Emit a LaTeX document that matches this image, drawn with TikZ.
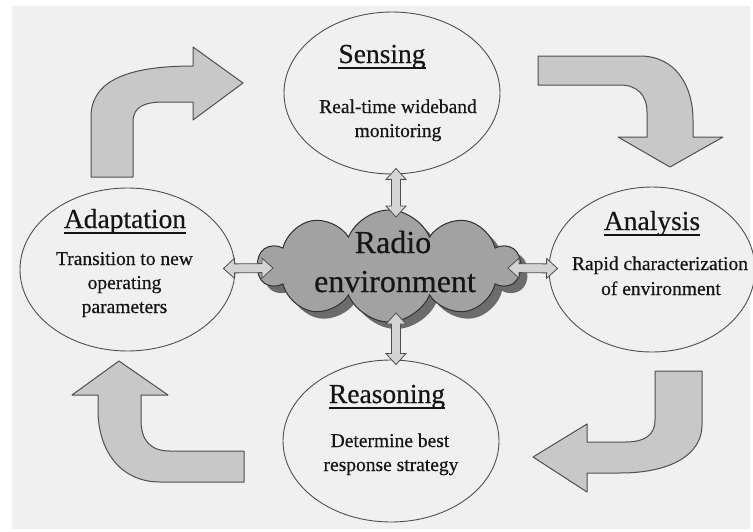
\documentclass[tikz,border=0pt]{standalone}
\usepackage{fontspec}
\setmainfont{Liberation Serif}[FakeBold=0.5]
\usetikzlibrary{shapes.geometric,shapes.symbols,calc}
\definecolor{bg}{HTML}{F0F0F0}
\definecolor{bigfill}{HTML}{C8C8C8}
\definecolor{edge}{HTML}{4F4F4F}
\definecolor{cloudfill}{HTML}{A2A2A2}
\definecolor{cloudshadow}{HTML}{6C6C6C}
\definecolor{cloudedge}{HTML}{303030}
\definecolor{smallfill}{HTML}{D4D4D4}
\definecolor{ink}{HTML}{151515}
\newcommand\mydblarrow[2]{%
  \coordinate (#1h) at ($(#1)!11pt!(#2)$);
  \coordinate (#2h) at ($(#2)!11pt!(#1)$);
  \draw[smallarrow] (#1)
    -- ($(#1h)!10pt!90:(#2)$) -- ($(#1h)!4.5pt!90:(#2)$)
    -- ($(#2h)!4.5pt!-90:(#1)$) -- ($(#2h)!10pt!-90:(#1)$)
    -- (#2)
    -- ($(#2h)!10pt!90:(#1)$) -- ($(#2h)!4.5pt!90:(#1)$)
    -- ($(#1h)!4.5pt!-90:(#2)$) -- ($(#1h)!10pt!-90:(#2)$)
    -- cycle;}
\begin{document}
\begin{tikzpicture}[x=1pt,y=-1pt,
  ell/.style={ellipse, draw=edge, line width=0.9pt, fill=bg, inner sep=0pt},
  bigarrow/.style={fill=bigfill, draw=edge, line width=1pt, line join=round},
  titletext/.style={font=\fontsize{27.5}{33}\selectfont, text=ink, inner sep=0pt, anchor=base},
  bodytext/.style={font=\fontsize{19.5}{24}\selectfont, text=ink, inner sep=0pt, anchor=base},
  cloudtext/.style={font=\fontsize{32}{38}\selectfont, text=ink, inner sep=0pt, anchor=base},
  smallarrow/.style={fill=smallfill, draw=edge, line width=0.8pt, line join=miter},
  uline/.style={draw=ink, line width=1.3pt},
  cloudshape/.style={cloud, cloud puffs=10, cloud puff arc=135, aspect=2.3,
    minimum width=262pt, minimum height=112pt, inner sep=0pt}
]
\useasboundingbox (0,0) rectangle (753,531);
\fill[white] (0,0) rectangle (753,531);
\fill[bg] (12,6) rectangle (750,529);

% big curved arrows
\draw[bigarrow] (91,177) -- (91,117) .. controls (91,82) and (125,66) .. (193,66)
  -- (193,47) -- (243,83) -- (193,120) -- (193,102) -- (165,102)
  .. controls (145,102) and (133,106) .. (133,122) -- (133,177) -- cycle;
\draw[bigarrow] (538,56) -- (640,56) .. controls (675,56) and (693,85) .. (693,120)
  -- (693,137) -- (723,137) -- (670,167) -- (618,137) -- (647,137) -- (647,112)
  .. controls (647,95) and (637,85) .. (620,85) -- (538,85) -- cycle;
\draw[bigarrow] (655,371) -- (702,371) -- (702,425)
  .. controls (702,455) and (670,473) .. (620,473) -- (587,473) -- (587,492)
  -- (533,457) -- (587,424) -- (587,442) -- (625,442)
  .. controls (645,442) and (655,435) .. (655,420) -- cycle;
\draw[bigarrow] (244,451) -- (244,482) -- (160,482)
  .. controls (120,482) and (98,450) .. (98,410) -- (98,395) -- (72,395)
  -- (119,361) -- (168,395) -- (141,395) -- (141,420)
  .. controls (141,440) and (150,451) .. (170,451) -- cycle;

% ellipses
\node[ell, minimum width=216pt, minimum height=162pt] (sensing) at (392,93) {};
\node[ell, minimum width=215pt, minimum height=163pt] (adaptation) at (127.5,269.5) {};
\node[ell, minimum width=206pt, minimum height=165pt] (analysis) at (652,269.5) {};
\node[ell, minimum width=216pt, minimum height=162pt] (reasoning) at (391,441) {};

% cloud
\node[cloudshape, fill=cloudshadow] (cloudsh) at (396,273) {};
\node[cloudshape, fill=cloudfill, draw=cloudedge, line width=1pt] (cloud) at (389,266) {};

% small double arrows
\coordinate (aTa) at ($(sensing.south)+(4,-6)$);
\coordinate (aTb) at ($(cloud.center)+(7,-49)$);
\mydblarrow{aTa}{aTb}
\coordinate (aLa) at ($(adaptation.east)+(-12,-1)$);
\coordinate (aLb) at ($(cloud.center)+(-116,2)$);
\mydblarrow{aLa}{aLb}
\coordinate (aRa) at ($(cloud.center)+(119,2)$);
\coordinate (aRb) at ($(analysis.west)+(9,-1)$);
\mydblarrow{aRa}{aRb}
\coordinate (aBa) at ($(cloud.center)+(7,47)$);
\coordinate (aBb) at ($(reasoning.north)+(5,5)$);
\mydblarrow{aBa}{aBb}

% texts
\node[titletext] (stitle) at (382,63) {Sensing};
\node[bodytext] (s1) at (398,113) {Real-time wideband};
\node[bodytext] (s2) at (398,137) {monitoring};

\node[titletext] (adtitle) at (125,228) {Adaptation};
\node[bodytext] (ad1) at (124.5,265) {Transition to new};
\node[bodytext] (ad2) at (124.5,289) {operating};
\node[bodytext] (ad3) at (124.5,313) {parameters};

\node[titletext] (antitle) at (652,230) {Analysis};
\node[bodytext] (an1) at (660,270) {Rapid characterization};
\node[bodytext] (an2) at (661,295) {of environment};

\node[titletext] (rtitle) at (387,403) {Reasoning};
\node[bodytext] (r1) at (390,447) {Determine best};
\node[bodytext] (r2) at (391,471) {response strategy};

\node[cloudtext] (c1) at (393,253) {Radio};
\node[cloudtext] (c2) at (395,292) {environment};

\foreach \t in {stitle,adtitle,antitle,rtitle}
  \draw[uline] ($(\t.base west)+(0,5)$) -- ($(\t.base east)+(0,5)$);
\end{tikzpicture}
\end{document}
